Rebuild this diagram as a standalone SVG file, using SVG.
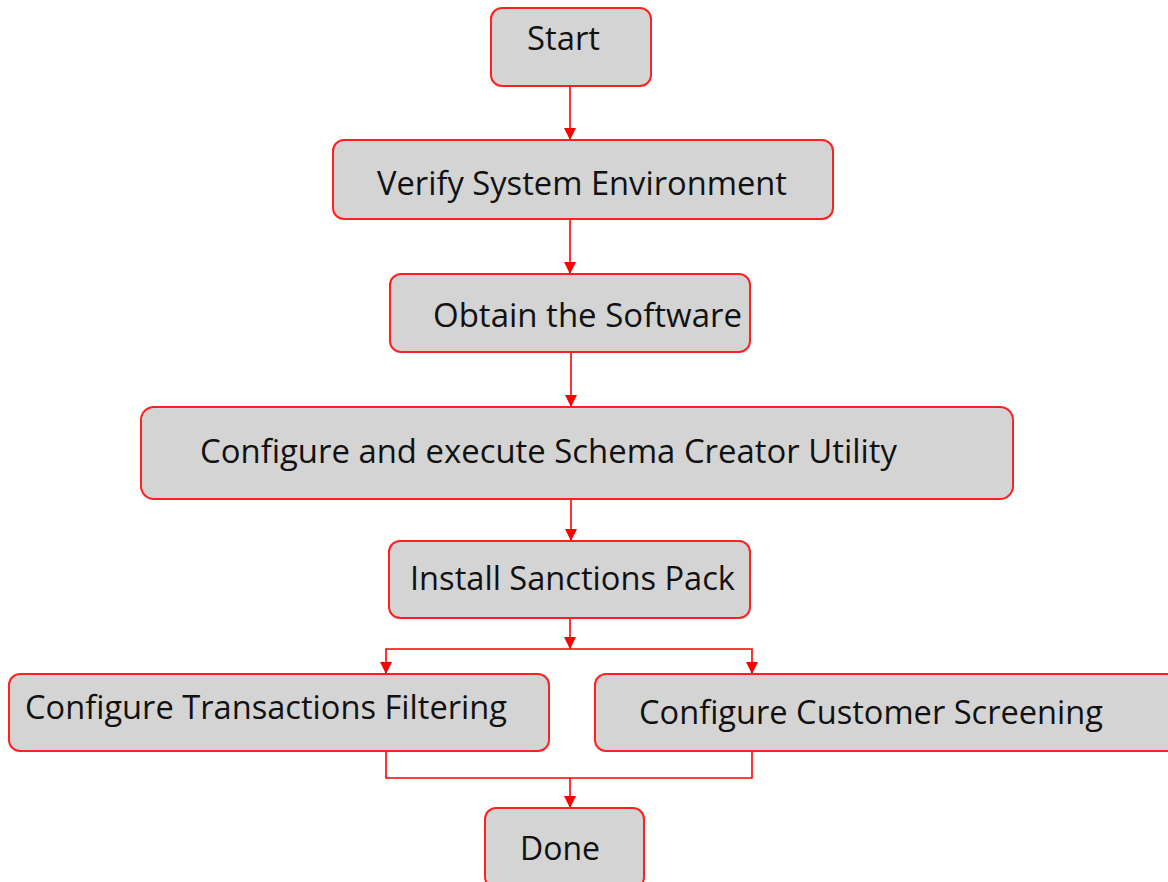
<svg xmlns="http://www.w3.org/2000/svg" width="1168" height="882" viewBox="0 0 1168 882">
<defs>
<style>
.box{fill:#d4d4d4;stroke:#ff2020;stroke-width:2}
.lbl{font-family:"Open Sans","Liberation Sans",sans-serif;font-size:33px;fill:#111}
.ln{fill:none;stroke:#ff0000;stroke-width:1.6}
</style>
<marker id="ah" viewBox="0 0 10 10" refX="10" refY="5" markerWidth="12" markerHeight="12" markerUnits="userSpaceOnUse" orient="auto">
<path d="M0,0 L10,5 L0,10 Z" fill="#ff0000"/>
</marker>
</defs>
<rect width="1168" height="882" fill="#fff"/>
<g id="connectors">
<path class="ln" d="M570,86 V140" marker-end="url(#ah)"/>
<path class="ln" d="M570,219 V274" marker-end="url(#ah)"/>
<path class="ln" d="M571,352 V407" marker-end="url(#ah)"/>
<path class="ln" d="M571,499 V541" marker-end="url(#ah)"/>
<path class="ln" d="M570,618 V649" marker-end="url(#ah)"/>
<path class="ln" d="M386,674 V649 H752 V674"/>
<path class="ln" d="M386,664 V674" marker-end="url(#ah)"/>
<path class="ln" d="M752,664 V674" marker-end="url(#ah)"/>
<path class="ln" d="M386,751 V778 H752 V751"/>
<path class="ln" d="M570,778 V808" marker-end="url(#ah)"/>
</g>
<g id="start">
<rect class="box" x="491" y="8" width="160" height="78" rx="11"/>
<text class="lbl" x="527" y="50" textLength="73" lengthAdjust="spacingAndGlyphs">Start</text>
</g>
<g id="verify">
<rect class="box" x="333" y="140" width="500" height="79" rx="11"/>
<text class="lbl" x="377" y="195" textLength="410" lengthAdjust="spacingAndGlyphs">Verify System Environment</text>
</g>
<g id="obtain">
<rect class="box" x="390" y="274" width="360" height="78" rx="11"/>
<text class="lbl" x="433" y="327" textLength="309" lengthAdjust="spacingAndGlyphs">Obtain the Software</text>
</g>
<g id="schema">
<rect class="box" x="141" y="407" width="872" height="92" rx="13"/>
<text class="lbl" x="200" y="463" textLength="697" lengthAdjust="spacingAndGlyphs">Configure and execute Schema Creator Utility</text>
</g>
<g id="install">
<rect class="box" x="389" y="541" width="361" height="77" rx="11"/>
<text class="lbl" x="410" y="590" textLength="325" lengthAdjust="spacingAndGlyphs">Install Sanctions Pack</text>
</g>
<g id="transactions">
<rect class="box" x="9" y="674" width="540" height="77" rx="11"/>
<text class="lbl" x="25" y="719" textLength="482" lengthAdjust="spacingAndGlyphs">Configure Transactions Filtering</text>
</g>
<g id="customer">
<rect class="box" x="595" y="674" width="590" height="77" rx="11"/>
<text class="lbl" x="639" y="724" textLength="464" lengthAdjust="spacingAndGlyphs">Configure Customer Screening</text>
</g>
<g id="done">
<rect class="box" x="485" y="808" width="159" height="80" rx="11"/>
<text class="lbl" x="520" y="860" textLength="80" lengthAdjust="spacingAndGlyphs">Done</text>
</g>
</svg>
